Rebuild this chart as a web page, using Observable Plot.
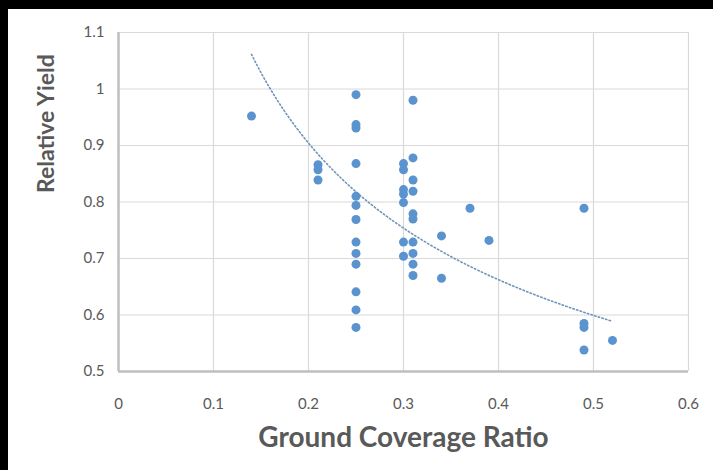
<!DOCTYPE html>
<html>
<head>
<meta charset="utf-8">
<script src="https://cdn.jsdelivr.net/npm/d3@7"></script>
<script src="https://cdn.jsdelivr.net/npm/@observablehq/plot@0.6"></script>
<style>
  html, body { margin: 0; padding: 0; background: #000; }
  #wrap { position: absolute; left: 8px; top: 9px; width: 705px; height: 461px; background: #fff; }
  svg { display: block; }
</style>
</head>
<body>
<div id="wrap"></div>
<script>
// Ground coverage ratio (x) and relative yield (y) for each observation
const gcr = [
  0.14,
  0.21, 0.21, 0.21,
  0.25, 0.25, 0.25, 0.25, 0.25, 0.25, 0.25, 0.25, 0.25, 0.25, 0.25, 0.25, 0.25,
  0.30, 0.30, 0.30, 0.30, 0.30, 0.30, 0.30,
  0.31, 0.31, 0.31, 0.31, 0.31, 0.31, 0.31, 0.31, 0.31, 0.31,
  0.34, 0.34,
  0.37,
  0.39,
  0.49, 0.49, 0.49, 0.49,
  0.52
];
const relYield = [
  0.952,
  0.866, 0.857, 0.839,
  0.990, 0.937, 0.931, 0.868, 0.810, 0.794, 0.769, 0.729, 0.709, 0.690, 0.641, 0.609, 0.578,
  0.868, 0.857, 0.822, 0.814, 0.799, 0.729, 0.704,
  0.980, 0.878, 0.839, 0.819, 0.779, 0.770, 0.729, 0.709, 0.690, 0.670,
  0.740, 0.665,
  0.789,
  0.732,
  0.789, 0.585, 0.578, 0.538,
  0.555
];
// Power trendline y = a * x^b as drawn in the chart (coefficients)
const trendCoef = [0.439, -0.449];
const trendRange = [0.14, 0.52];
const xTicks = [0, 0.1, 0.2, 0.3, 0.4, 0.5, 0.6];
const yTicks = [0.5, 0.6, 0.7, 0.8, 0.9, 1, 1.1];
const xTitle = "Ground Coverage Ratio";
const yTitle = "Relative Yield";

const points = gcr.map((x, i) => ({x, y: relYield[i]}));
const [ta, tb] = trendCoef;
const trend = d3.range(0, 201).map(i => {
  const x = trendRange[0] + (trendRange[1] - trendRange[0]) * i / 200;
  return {x, y: ta * Math.pow(x, tb)};
});

const chart = Plot.plot({
  width: 705,
  height: 461,
  marginLeft: 110,
  marginRight: 25,
  marginTop: 23,
  marginBottom: 99,
  style: {fontFamily: "Lato, 'Open Sans', sans-serif", fontSize: "15px", color: "#595959", background: "#fff"},
  x: {domain: [0, 0.6]},
  y: {domain: [0.5, 1.1]},
  marks: [
    Plot.gridX(xTicks, {stroke: "#d9d9d9", strokeOpacity: 1, strokeWidth: 1.2}),
    Plot.gridY(yTicks, {stroke: "#d9d9d9", strokeOpacity: 1, strokeWidth: 1.2}),
    Plot.axisX(xTicks, {tickSize: 0, tickPadding: 27, tickFormat: d => String(d), label: null, fill: "#595959", fontSize: 15}),
    Plot.axisY(yTicks, {tickSize: 0, tickPadding: 14, tickFormat: d => String(d), label: null, fill: "#595959", fontSize: 15}),
    Plot.ruleX([0], {stroke: "#bfbfbf", strokeWidth: 2.5}),
    Plot.ruleY([0.5], {stroke: "#bfbfbf", strokeWidth: 2.5}),
    Plot.line(trend, {x: "x", y: "y", stroke: "#6f93bb", strokeWidth: 1.6, strokeDasharray: "1.4,2.4"}),
    Plot.dot(points, {x: "x", y: "y", r: 4.5, fill: "#5b93cf", stroke: "none"}),
    Plot.text([xTitle], {frameAnchor: "bottom", dy: 67, lineAnchor: "middle", fontSize: 28, fontWeight: "bold", fill: "#595959"}),
    Plot.text([yTitle], {frameAnchor: "left", dx: -72, dy: -9, rotate: -90, lineAnchor: "middle", fontSize: 23, fontWeight: "bold", fill: "#595959"})
  ]
});
document.getElementById("wrap").appendChild(chart);
</script>
</body>
</html>
